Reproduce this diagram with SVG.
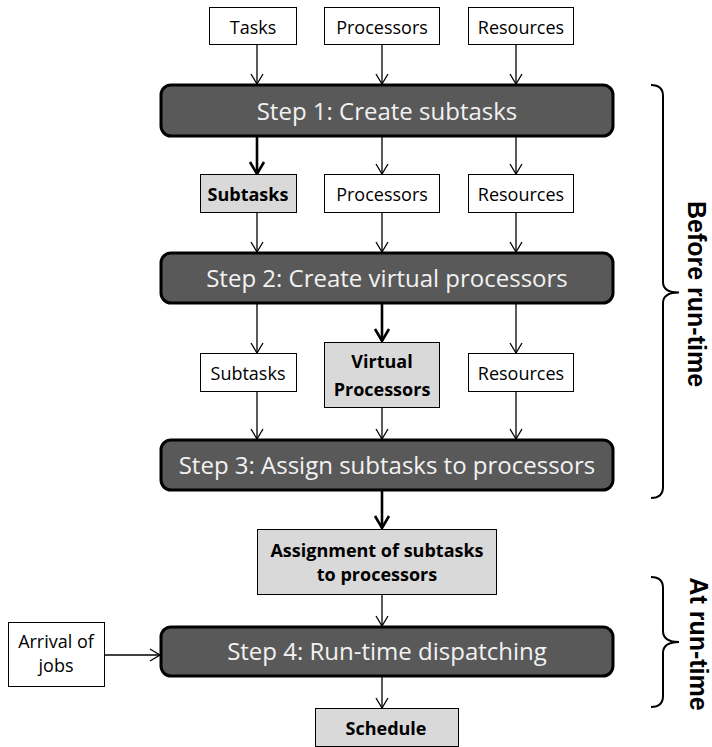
<svg xmlns="http://www.w3.org/2000/svg" width="712" height="747" viewBox="0 0 712 747">
<defs>
<style>
.box{fill:#fff;stroke:#000;stroke-width:1}
.hl{fill:#d9d9d9;stroke:#000;stroke-width:1}
.step{fill:#595959;stroke:#000;stroke-width:3}
.t{font-family:"Open Sans","Liberation Sans",sans-serif;font-size:18px;fill:#000;text-anchor:middle}
.b{font-weight:bold}
.st{font-family:"Open Sans","Liberation Sans",sans-serif;font-size:24px;fill:#f2f2f2;text-anchor:middle}
.side{font-family:"Liberation Sans",Arial,sans-serif;font-size:25px;font-weight:bold;fill:#000;text-anchor:middle}
.a{fill:none;stroke:#000;stroke-width:1.3;marker-end:url(#ah)}
.ak{fill:none;stroke:#000;stroke-width:2.6;marker-end:url(#ahk)}
.brace{fill:none;stroke:#000;stroke-width:2}
</style>
<marker id="ah" markerUnits="userSpaceOnUse" markerWidth="16" markerHeight="16" viewBox="-12 -8 14 16" refX="0" refY="0" orient="auto">
<path d="M-10,-6 L0,0 L-10,6" fill="none" stroke="#000" stroke-width="1.3"/>
</marker>
<marker id="ahk" markerUnits="userSpaceOnUse" markerWidth="18" markerHeight="18" viewBox="-14 -9 16 18" refX="0" refY="0" orient="auto">
<path d="M-12,-7 L0,0 L-12,7" fill="none" stroke="#000" stroke-width="2.6"/>
</marker>
</defs>
<rect width="712" height="747" fill="#fff"/>

<g id="connectors">
<line class="a" x1="257" y1="44" x2="257" y2="84"/>
<line class="a" x1="382" y1="44" x2="382" y2="84"/>
<line class="a" x1="516" y1="44" x2="516" y2="84"/>
<line class="ak" x1="257" y1="137" x2="257" y2="174"/>
<line class="a" x1="382" y1="137" x2="382" y2="174"/>
<line class="a" x1="516" y1="137" x2="516" y2="174"/>
<line class="a" x1="257" y1="212" x2="257" y2="252"/>
<line class="a" x1="382" y1="212" x2="382" y2="252"/>
<line class="a" x1="516" y1="212" x2="516" y2="252"/>
<line class="a" x1="257" y1="304" x2="257" y2="353"/>
<line class="ak" x1="382" y1="304" x2="382" y2="341"/>
<line class="a" x1="516" y1="304" x2="516" y2="353"/>
<line class="a" x1="257" y1="391" x2="257" y2="439"/>
<line class="a" x1="382" y1="407" x2="382" y2="439"/>
<line class="a" x1="516" y1="391" x2="516" y2="439"/>
<line class="ak" x1="382" y1="491" x2="382" y2="528"/>
<line class="a" x1="382" y1="594" x2="382" y2="626"/>
<line class="a" x1="104" y1="655" x2="160" y2="655"/>
<line class="a" x1="382" y1="677" x2="382" y2="708"/>
</g>

<g id="tasks"><rect class="box" x="209.5" y="7.5" width="87" height="37"/><text class="t" x="253" y="34">Tasks</text></g>
<g id="processors1"><rect class="box" x="324.5" y="7.5" width="115" height="37"/><text class="t" x="382" y="34">Processors</text></g>
<g id="resources1"><rect class="box" x="468.5" y="7.5" width="105" height="37"/><text class="t" x="521" y="34">Resources</text></g>

<g id="step1"><rect class="step" x="161" y="85" width="452" height="51" rx="10"/><text class="st" x="387" y="120">Step 1: Create subtasks</text></g>

<g id="subtasks1"><rect class="hl" x="200.5" y="174.5" width="96" height="38"/><text class="t b" x="248" y="201">Subtasks</text></g>
<g id="processors2"><rect class="box" x="324.5" y="174.5" width="115" height="38"/><text class="t" x="382" y="201">Processors</text></g>
<g id="resources2"><rect class="box" x="468.5" y="174.5" width="105" height="38"/><text class="t" x="521" y="201">Resources</text></g>

<g id="step2"><rect class="step" x="161" y="253" width="452" height="50" rx="10"/><text class="st" x="387" y="287">Step 2: Create virtual processors</text></g>

<g id="subtasks2"><rect class="box" x="200.5" y="353.5" width="96" height="38"/><text class="t" x="248" y="380">Subtasks</text></g>
<g id="virtual"><rect class="hl" x="324.5" y="342.5" width="115" height="65"/><text class="t b" x="382" y="368">Virtual</text><text class="t b" x="382" y="395.5">Processors</text></g>
<g id="resources3"><rect class="box" x="468.5" y="353.5" width="105" height="38"/><text class="t" x="521" y="380">Resources</text></g>

<g id="step3"><rect class="step" x="161" y="440" width="452" height="50" rx="10"/><text class="st" x="387" y="474">Step 3: Assign subtasks to processors</text></g>

<g id="assignment"><rect class="hl" x="257.5" y="529.5" width="239" height="65"/><text class="t b" x="377" y="557">Assignment of subtasks</text><text class="t b" x="377" y="581">to processors</text></g>

<g id="arrival"><rect class="box" x="8.5" y="622.5" width="96" height="64"/><text class="t" x="56" y="648">Arrival of</text><text class="t" x="56" y="672">jobs</text></g>

<g id="step4"><rect class="step" x="161" y="627" width="452" height="49" rx="10"/><text class="st" x="387" y="660">Step 4: Run-time dispatching</text></g>

<g id="schedule"><rect class="hl" x="315.5" y="708.5" width="143" height="38"/><text class="t b" x="386" y="735">Schedule</text></g>

<g id="before-runtime">
<path class="brace" d="M651,85 Q663,85 663,96 L663,282 Q663,292.5 679,292.5 Q663,292.5 663,303 L663,487 Q663,498 651,498"/>
<text class="side" transform="translate(688,294) rotate(90)">Before run-time</text>
</g>
<g id="at-runtime">
<path class="brace" d="M651,577 Q663,577 663,588 L663,631 Q663,642 679,642 Q663,642 663,653 L663,696 Q663,707 651,707"/>
<text class="side" transform="translate(690,644) rotate(90)">At run-time</text>
</g>
</svg>
